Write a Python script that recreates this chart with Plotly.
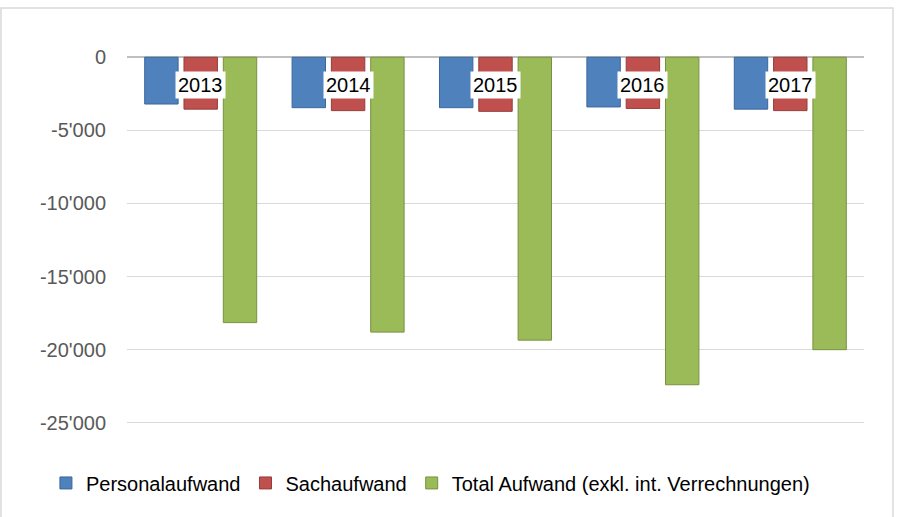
import plotly.graph_objects as go

years = ["2013", "2014", "2015", "2016", "2017"]
personalaufwand = [-3200, -3450, -3450, -3400, -3550]
sachaufwand = [-3550, -3650, -3700, -3500, -3650]
total_aufwand = [-18150, -18800, -19350, -22400, -20000]

series_names = ["Personalaufwand", "Sachaufwand", "Total Aufwand (exkl. int. Verrechnungen)"]
tick_vals = [0, -5000, -10000, -15000, -20000, -25000]
tick_text = ["0", "-5'000", "-10'000", "-15'000", "-20'000", "-25'000"]

colors = ["#4F81BD", "#C0504D", "#9BBB59"]
edge = ["#3A679E", "#963C3A", "#77923F"]

fig = go.Figure()
for name, vals, c, e in zip(series_names, [personalaufwand, sachaufwand, total_aufwand], colors, edge):
    fig.add_trace(go.Bar(x=years, y=vals, name=name,
                         marker=dict(color=c, line=dict(color=e, width=1))))

for i, yr in enumerate(years):
    fig.add_annotation(x=i, y=0, xref="x", yref="y", text=yr, showarrow=False,
                       yanchor="top", yshift=-14, bgcolor="white", borderpad=2,
                       font=dict(size=20, color="black", family="Liberation Sans"))

fig.add_shape(type="rect", xref="paper", yref="paper",
              x0=-0.171, x1=1.0393, y0=-0.2, y1=1.0472,
              line=dict(color="#D9D9D9", width=1.5), layer="below")

fig.update_layout(
    width=903, height=517,
    margin=dict(l=127, r=39, t=28, b=65, autoexpand=False),
    paper_bgcolor="white", plot_bgcolor="white",
    barmode="group", bargap=0.2, bargroupgap=0.15,
    font=dict(family="Liberation Sans", size=20, color="#595959"),
    showlegend=True,
    legend=dict(orientation="h", x=-0.11, xanchor="left", y=-0.073, yanchor="middle",
                font=dict(size=20, color="black"), itemwidth=30, traceorder="normal"),
    xaxis=dict(type="category", range=[-0.5, 4.5], showticklabels=False, showgrid=False,
               zeroline=False, showline=False),
    yaxis=dict(range=[-27000, 2000], tickvals=tick_vals, ticktext=tick_text,
               showgrid=True, gridcolor="#D9D9D9", gridwidth=1,
               zeroline=True, zerolinecolor="#BFBFBF", zerolinewidth=1.5,
               showline=False, ticks="", ticklabelstandoff=20),
)

fig.write_html("out.html", config={"displayModeBar": False},
               post_script="document.body.style.margin='0';")
